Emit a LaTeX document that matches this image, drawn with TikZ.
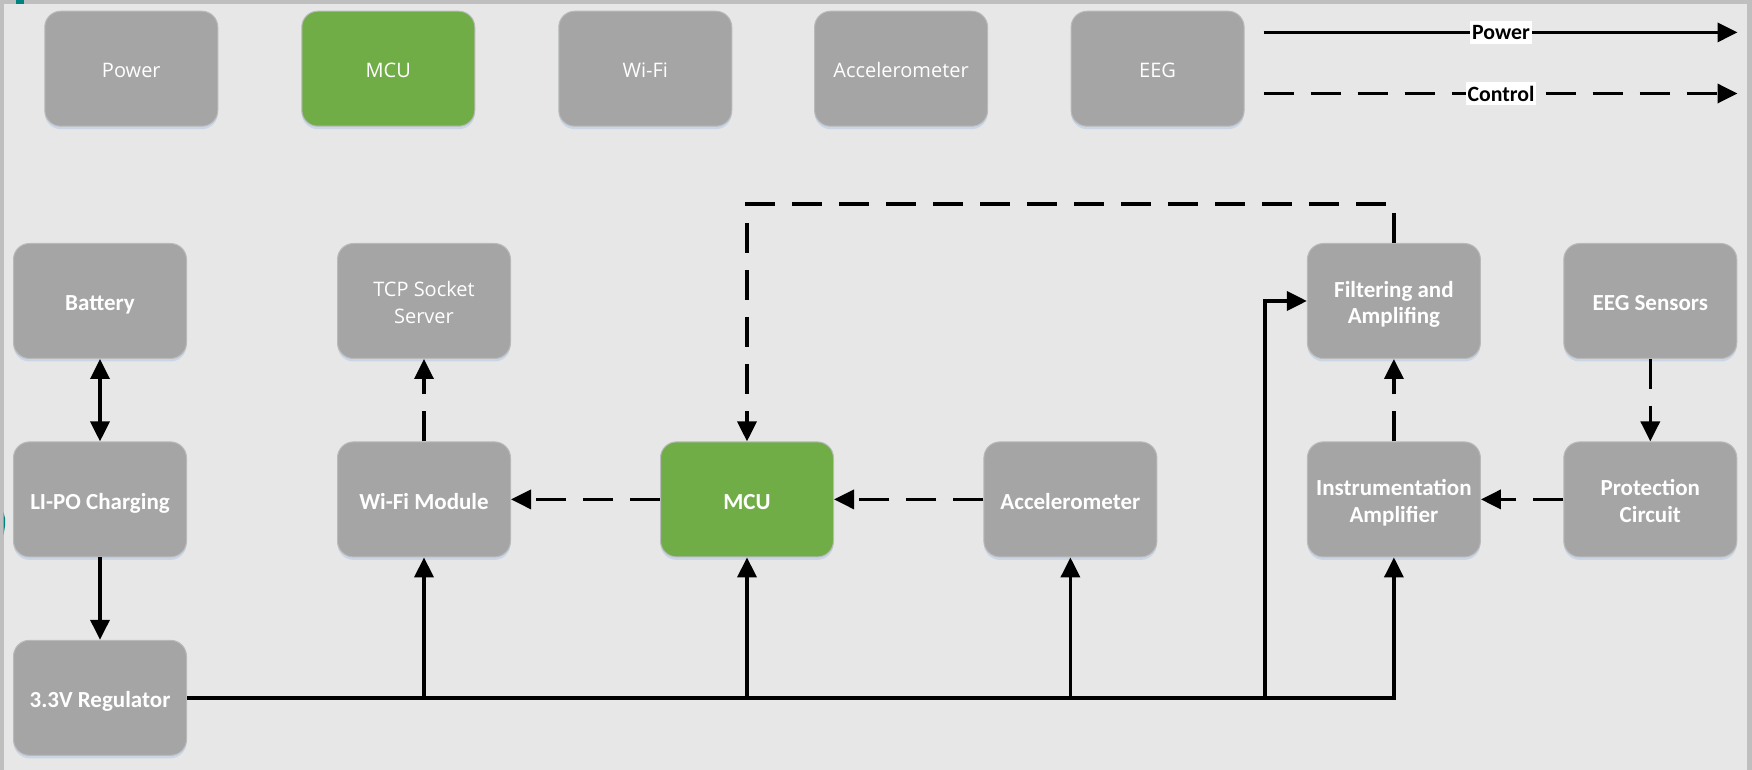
\documentclass[tikz,border=0pt]{standalone}
\usepackage{fontspec}
\newfontfamily\calfont{Carlito}
\newfontfamily\osfont{Open Sans}
\usetikzlibrary{arrows.meta,shadows}
\definecolor{bg}{HTML}{E7E7E7}
\definecolor{strip}{HTML}{BFBFBF}
\definecolor{boxgray}{HTML}{A5A5A5}
\definecolor{boxedge}{HTML}{B9B9B9}
\definecolor{mcugreen}{HTML}{70AD47}
\definecolor{shadowblue}{HTML}{C3D2E6}
\definecolor{tealmark}{HTML}{00827F}
\tikzset{
  blk/.style={rectangle, rounded corners=8pt, minimum width=86.5pt, minimum height=57.5pt,
    inner sep=0pt, fill=boxgray, draw=boxedge, line width=0.5pt, text=white, align=center,
    font=\calfont\bfseries\fontsize{11.5}{13.4}\selectfont,
    text height=9.6pt, text depth=0pt,
    drop shadow={shadow xshift=0pt, shadow yshift=-1.5pt, fill=shadowblue, opacity=0.8}},
  twoline/.style={text height=23pt, text depth=0pt},
  lightblk/.style={blk, font=\osfont\fontsize{10}{13.4}\selectfont, text height=8.9pt},
  lighttwo/.style={text height=22.5pt, text depth=0pt},
  greenblk/.style={fill=mcugreen},
  pw/.style={line width=1.75pt, black},
  pwarrow/.style={pw, -{Triangle[length=10pt, width=9.5pt]}},
  ctl/.style={line width=1.75pt, black, dash pattern=on 15pt off 8.5pt},
  ctlarrow/.style={ctl, -{Triangle[length=10pt, width=9.5pt]}},
  legendlabel/.style={fill=white, inner xsep=1pt, inner ysep=2pt, text=black,
    font=\calfont\bfseries\fontsize{10.9}{12}\selectfont}
}
\begin{document}
\begin{tikzpicture}[x=0.5pt, y=-0.5pt]
\useasboundingbox (0,0) rectangle (1752,770);
\fill[bg] (0,0) rectangle (1752,770);
\fill[strip] (0,0) rectangle (1752,4.5);
\fill[strip] (0,0) rectangle (3.5,770);
\fill[strip] (1747,0) rectangle (1752,770);
\fill[tealmark] (15.5,0) rectangle (24,4.5);
\fill[tealmark] (3.5,512) -- (5,518) -- (5,526) -- (3.5,535) -- cycle;

% top row (key)
\node[lightblk] (kPower) at (131.3,68.7) {Power};
\node[lightblk, greenblk] (kMCU) at (388.3,68.7) {MCU};
\node[lightblk] (kWiFi) at (645.3,68.7) {Wi-Fi};
\node[lightblk] (kAcc) at (901.1,68.7) {Accelerometer};
\node[lightblk] (kEEG) at (1157.6,68.7) {EEG};

% legend
\coordinate (lp1) at (1263.7,32.4);
\coordinate (lp2) at (1737.5,32.4);
\coordinate (lc1) at (1263.7,93.5);
\coordinate (lc2) at (1737.5,93.5);
\draw[pwarrow] (lp1) -- (lp2);
\draw[ctlarrow] (lc1) -- (lc2);
\node[legendlabel] (lpl) at (1501,32.4) {Power};
\node[legendlabel] (lcl) at (1501,93.5) {Control};

% main blocks
\node[blk] (Bat) at (100,301) {Battery};
\node[blk] (Lipo) at (100,499.4) {LI-PO Charging};
\node[blk] (Reg) at (100,697.8) {3.3V Regulator};
\node[lightblk, lighttwo] (TCP) at (424,301) {TCP Socket\\Server};
\node[blk] (WiFi) at (424,499.4) {Wi-Fi Module};
\node[blk, greenblk] (MCU) at (747,499.4) {MCU};
\node[blk] (Acc) at (1070.4,499.4) {Accelerometer};
\node[blk, twoline] (Filt) at (1393.9,301) {Filtering and\\Amplifing};
\node[blk] (EEGs) at (1650.3,301) {EEG Sensors};
\node[blk, twoline] (Inst) at (1393.9,499.4) {Instrumentation\\Amplifier};
\node[blk, twoline] (Prot) at (1650.3,499.4) {Protection\\Circuit};

% power connections
\draw[pw, {Triangle[length=10pt, width=9.5pt]}-{Triangle[length=10pt, width=9.5pt]}] (Bat) -- (Lipo);
\draw[pwarrow] (Lipo) -- (Reg);
\draw[pwarrow] (Reg.east) -- (Reg.east -| Inst.south) -- (Inst.south);
\draw[pwarrow] (Reg.east -| WiFi.south) -- (WiFi.south);
\draw[pwarrow] (Reg.east -| MCU.south) -- (MCU.south);
\draw[pwarrow] (Reg.east -| Acc.south) -- (Acc.south);
\coordinate (fj) at (1264.8,697.8);
\draw[pwarrow] (fj) |- (Filt.west);

% control connections
\draw[ctlarrow] (WiFi) -- (TCP);
\draw[ctlarrow] (MCU) -- (WiFi);
\draw[ctlarrow] (Acc) -- (MCU);
\draw[ctlarrow] (Prot) -- (Inst);
\draw[ctlarrow] (EEGs) -- (Prot);
\draw[ctlarrow] (Inst) -- (Filt);
\coordinate (top) at (1393.9,204);
\draw[ctlarrow] (Filt.north) -- (top) -| (MCU.north);
\end{tikzpicture}
\end{document}
